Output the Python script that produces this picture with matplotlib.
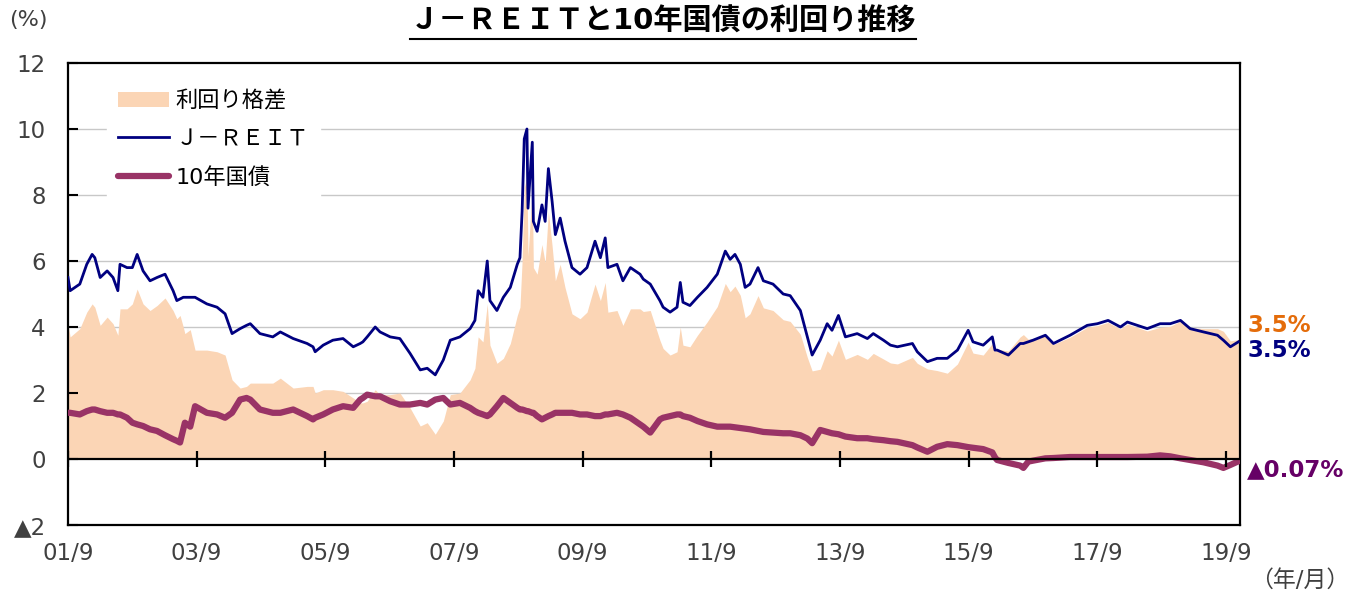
import numpy as np
import matplotlib.pyplot as plt
import matplotlib.transforms as mtransforms
from matplotlib.lines import Line2D

plt.rcParams['font.family'] = ['DejaVu Sans', 'Noto Sans CJK JP']

# months elapsed since 2001/9
months = [0, 0.4, 2.2, 3.5, 4.5, 5, 6, 7.3, 8.4, 9.3, 9.7, 11, 12, 12.9, 14, 15.3,
          16.6, 18.1, 19.6, 20.3, 20.9, 21.5, 21.8, 22.8, 23.7, 25.9, 27.8, 29.3,
          30.6, 32.1, 33.3, 34, 35.8, 38.2, 39.6, 42, 44.6, 45.7, 46.1, 47.6, 49.4,
          51.3, 53.2, 54.5, 55, 55.8, 57.3, 58.2, 60.1, 61.9, 63.8, 65.7, 67, 68.5,
          70, 71.3, 73.1, 75, 75.9, 76.5, 77.4, 78.2, 78.7, 80, 81.2, 82.5, 83.8,
          84.3, 84.7, 85.1, 85.6, 85.8, 86.6, 86.8, 87.5, 88.4, 89, 89.6, 90.3,
          90.9, 91.8, 92.7, 94, 95.5, 96.8, 98.3, 99.3, 100.2, 100.7, 102.4, 103.5,
          104.9, 106.7, 107.3, 108.6, 110.4, 111, 112.3, 113.6, 114.2, 114.7, 116,
          117.4, 119.2, 121.1, 122.6, 123.5, 124.4, 125.4, 126.3, 127.2, 128.7,
          129.7, 131.5, 133.4, 134.7, 136.6, 137.9, 138.8, 140.3, 141.6, 142.5,
          143.7, 145, 147.2, 149.1, 150.2, 152.1, 153.4, 154.7, 157.5, 158.4, 160.3,
          162.1, 164, 165.9, 167.9, 168.8, 170.7, 172.4, 172.9, 173.3, 175.4, 177.6,
          178.2, 179.1, 180, 182.3, 183.8, 186.9, 190.1, 192, 194, 196.3, 197.6,
          201.3, 203.7, 205.6, 207.5, 209.3, 211.8, 214.4, 215.5, 216.8, 218.3]

reit = [5.5, 5.1, 5.3, 5.9, 6.2, 6.1, 5.5, 5.7, 5.5, 5.1, 5.9, 5.8, 5.8, 6.2, 5.7, 5.4,
        5.5, 5.6, 5.1, 4.8, 4.85, 4.9, 4.9, 4.9, 4.9, 4.7, 4.6, 4.4,
        3.8, 3.95, 4.05, 4.1, 3.8, 3.7, 3.85, 3.65, 3.5, 3.4, 3.25, 3.45, 3.6,
        3.65, 3.4, 3.5, 3.55, 3.7, 4.0, 3.85, 3.7, 3.65, 3.2, 2.7, 2.75, 2.55,
        3.0, 3.6, 3.7, 3.95, 4.2, 5.1, 4.9, 6.0, 4.8, 4.5, 4.9, 5.2, 5.9,
        6.1, 7.5, 9.7, 10.0, 7.6, 9.6, 7.2, 6.9, 7.7, 7.2, 8.8, 7.8,
        6.8, 7.3, 6.6, 5.8, 5.6, 5.8, 6.6, 6.1, 6.7, 5.8, 5.9, 5.4,
        5.8, 5.6, 5.45, 5.3, 4.8, 4.6, 4.45, 4.6, 5.35, 4.75, 4.65,
        4.9, 5.2, 5.6, 6.3, 6.05, 6.2, 5.9, 5.2, 5.3, 5.8,
        5.4, 5.3, 5.0, 4.95, 4.5, 3.7, 3.15, 3.6, 4.1, 3.9,
        4.35, 3.7, 3.8, 3.65, 3.8, 3.6, 3.45, 3.4, 3.5, 3.25, 2.95,
        3.05, 3.05, 3.3, 3.9, 3.55, 3.45, 3.7, 3.3, 3.3, 3.15, 3.5,
        3.5, 3.55, 3.6, 3.75, 3.5, 3.75, 4.05, 4.1, 4.2, 4.0, 4.15,
        3.95, 4.1, 4.1, 4.2, 3.95, 3.85, 3.75, 3.6, 3.4, 3.55]

jgb = [1.4, 1.4, 1.35, 1.45, 1.5, 1.5, 1.45, 1.4, 1.4, 1.35, 1.35, 1.25, 1.1, 1.05, 1.0, 0.9,
       0.85, 0.72, 0.6, 0.55, 0.5, 0.9, 1.1, 0.98, 1.6, 1.4, 1.35, 1.25,
       1.4, 1.8, 1.85, 1.8, 1.5, 1.4, 1.4, 1.5, 1.3, 1.2, 1.25, 1.35, 1.5,
       1.6, 1.55, 1.8, 1.85, 1.95, 1.9, 1.9, 1.75, 1.65, 1.65, 1.7, 1.65, 1.8,
       1.85, 1.65, 1.7, 1.55, 1.45, 1.4, 1.35, 1.3, 1.35, 1.6, 1.85, 1.7, 1.55,
       1.5, 1.5, 1.48, 1.45, 1.45, 1.4, 1.4, 1.3, 1.2, 1.25, 1.3, 1.35,
       1.4, 1.4, 1.4, 1.4, 1.35, 1.35, 1.3, 1.3, 1.35, 1.35, 1.4, 1.35,
       1.25, 1.05, 0.98, 0.8, 1.2, 1.25, 1.3, 1.35, 1.35, 1.3, 1.25,
       1.15, 1.05, 0.98, 0.98, 0.98, 0.96, 0.94, 0.92, 0.9, 0.85,
       0.82, 0.8, 0.78, 0.78, 0.72, 0.62, 0.48, 0.88, 0.82, 0.78,
       0.75, 0.68, 0.63, 0.63, 0.6, 0.57, 0.54, 0.52, 0.42, 0.35, 0.22,
       0.37, 0.45, 0.42, 0.36, 0.34, 0.3, 0.2, 0.05, -0.03, -0.12, -0.2,
       -0.27, -0.08, -0.05, 0.02, 0.03, 0.06, 0.06, 0.06, 0.06, 0.06, 0.06,
       0.07, 0.11, 0.08, 0.02, -0.03, -0.1, -0.2, -0.27, -0.18, -0.07]

tick_months = [0, 24, 48, 72, 96, 120, 144, 168, 192, 216]
tick_labels = ['01/9', '03/9', '05/9', '07/9', '09/9', '11/9', '13/9', '15/9', '17/9', '19/9']
ytick_vals = [-2, 0, 2, 4, 6, 8, 10, 12]
ytick_labels = ['▲2', '0', '2', '4', '6', '8', '10', '12']

end_labels = ['3.5%', '3.5%', '▲0.07%']

FILL = '#FBD5B5'
NAVY = '#000080'
PLUM = '#993366'
TXT = '#404040'

x = np.array(months)
reit = np.array(reit)
jgb = np.array(jgb)
spread = reit - jgb

fig = plt.figure(figsize=(13.57, 5.98), dpi=100)
ax = fig.add_axes([68 / 1357, 1 - 525 / 598, 1172 / 1357, 462 / 598])

ax.fill_between(x, 0, spread, color=FILL, lw=0, zorder=1, label='利回り格差')
ax.plot(x, reit, color=NAVY, lw=2, zorder=3, label='Ｊ－ＲＥＩＴ')
ax.plot(x, jgb, color=PLUM, lw=4.5, zorder=4, solid_capstyle='round', label='10年国債')

ax.set_xlim(0, 218.6)
ax.set_ylim(-2, 12)

# grid and zero line
for v in ytick_vals[2:-1]:
    ax.axhline(v, color='#c8c8c8', lw=1, zorder=0.5)
ax.axhline(0, color='black', lw=1.6, zorder=5)
ax.vlines(tick_months, -0.24, 0.24, color='black', lw=1.6, zorder=5)

ax.set_xticks(tick_months)
ax.set_xticklabels(tick_labels, fontsize=16.5, color=TXT)
ax.tick_params(axis='x', length=0, pad=12)
ax.set_yticks(ytick_vals)
ax.set_yticklabels(ytick_labels, fontsize=16.5, color=TXT)
ax.tick_params(axis='y', direction='in', length=7, width=1.5, pad=16)
for s in ax.spines.values():
    s.set_linewidth(1.6)
    s.set_color('black')

leg = ax.legend(loc='upper left', bbox_to_anchor=(0.033, 0.965), fontsize=16,
                frameon=True, framealpha=1, edgecolor='white', fancybox=False,
                handlelength=2.3, handletextpad=0.3, labelspacing=0.8,
                borderpad=0.5, borderaxespad=0)
leg.set_zorder(6)

# labels at the right end
tr = mtransforms.blended_transform_factory(ax.transAxes, ax.transData)
ax.text(1.006, 4.05, end_labels[0], transform=tr, color='#E46C0A', fontsize=16.5,
        fontweight='bold', va='center', ha='left')
ax.text(1.006, 3.3, end_labels[1], transform=tr, color=NAVY, fontsize=16.5,
        fontweight='bold', va='center', ha='left')
ax.text(1.006, -0.33, end_labels[2], transform=tr, color='#660066', fontsize=16.5,
        fontweight='bold', va='center', ha='left')

fig.text(28 / 1357, 1 - 20 / 598, '(%)', fontsize=16, color=TXT, ha='center', va='center')
fig.text(1300 / 1357, 1 - 580 / 598, '（年/月）', fontsize=16.5, color=TXT, ha='center', va='center')

title = fig.text(663 / 1357, 1 - 22 / 598, 'Ｊ－ＲＥＩＴと10年国債の利回り推移',
                 fontsize=21, fontweight='bold', ha='center', va='center', color='black')

# underline the title
fig.canvas.draw()
bb = title.get_window_extent().transformed(fig.transFigure.inverted())
fig.add_artist(Line2D([bb.x0, bb.x1], [1 - 39 / 598] * 2, color='black', lw=1.5,
                      transform=fig.transFigure))

fig.savefig('out.png', dpi=100)
